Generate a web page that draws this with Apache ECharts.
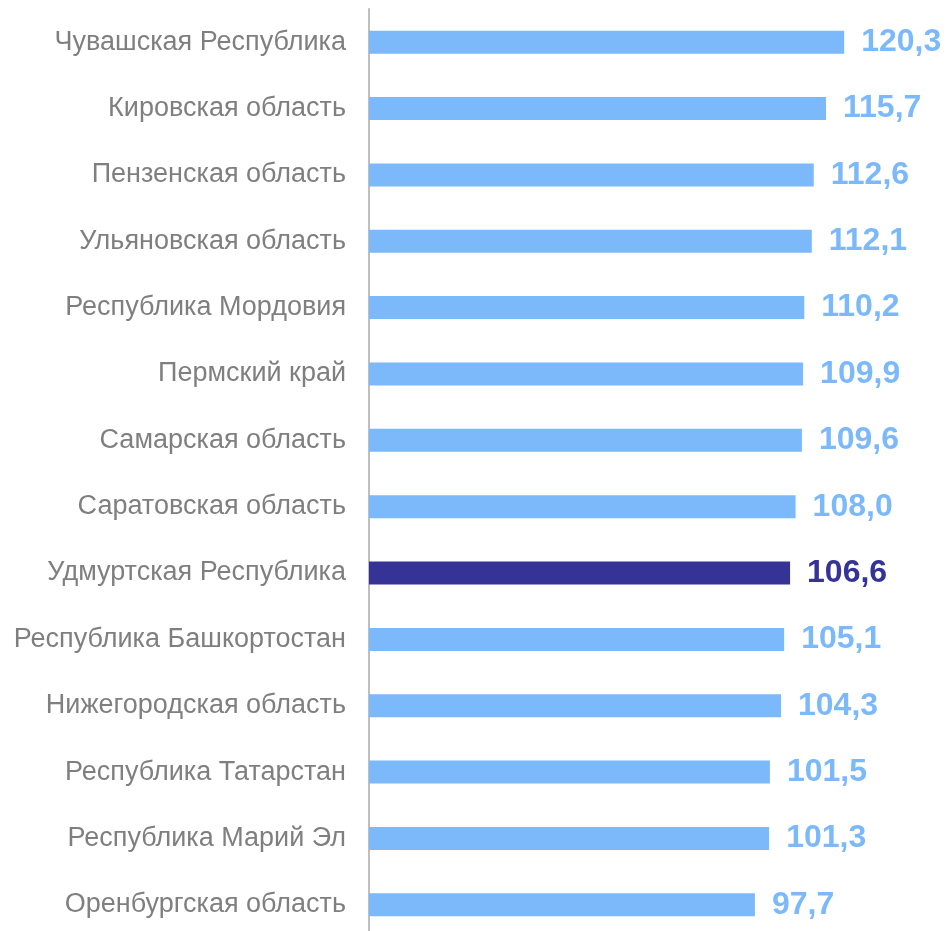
<!DOCTYPE html>
<html>
<head>
<meta charset="utf-8">
<script src="https://cdn.jsdelivr.net/npm/echarts@6/dist/echarts.min.js"></script>
<style>
    html, body { margin: 0; padding: 0; background: #ffffff; }
    #chart { width: 946px; height: 931px; }
</style>
</head>
<body>
<div id="chart"></div>
<script>
// регионы сверху вниз
var regions = [
    'Чувашская Республика',
    'Кировская область',
    'Пензенская область',
    'Ульяновская область',
    'Республика Мордовия',
    'Пермский край',
    'Самарская область',
    'Саратовская область',
    'Удмуртская Республика',
    'Республика Башкортостан',
    'Нижегородская область',
    'Республика Татарстан',
    'Республика Марий Эл',
    'Оренбургская область'
];
var values = [120.3, 115.7, 112.6, 112.1, 110.2, 109.9, 109.6, 108.0, 106.6, 105.1, 104.3, 101.5, 101.3, 97.7];
var highlightRegion = 'Удмуртская Республика';

var chart = echarts.init(document.getElementById('chart'));

// ось категорий идёт снизу вверх, поэтому разворачиваем
var cats = regions.slice().reverse();
var vals = values.slice().reverse();

var barData = vals.map(function (v, i) {
    var hl = cats[i] === highlightRegion;
    return {
        value: v,
        itemStyle: { color: hl ? '#353396' : '#7cb9fb' },
        label: { color: hl ? '#353396' : '#7cb9fb' }
    };
});

var option = {
    animation: false,
    grid: {
        left: 369,
        top: 9,
        width: 553,
        height: 929,
        outerBoundsMode: 'none',
        containLabel: false
    },
    xAxis: {
        type: 'value',
        min: 0,
        max: 140,
        show: false
    },
    yAxis: {
        type: 'category',
        data: cats,
        axisLine: { show: true, lineStyle: { color: '#bfbfbf', width: 2 } },
        axisTick: { show: false },
        axisLabel: {
            color: '#7f7f7f',
            fontSize: 27,
            fontFamily: 'Liberation Sans, Arial, sans-serif',
            margin: 23
        }
    },
    series: [{
        type: 'bar',
        data: barData,
        barWidth: 23,
        label: {
            show: true,
            position: 'right',
            distance: 17,
            fontSize: 32,
            fontWeight: 'bold',
            fontFamily: 'Liberation Sans, Arial, sans-serif',
            formatter: function (p) {
                return p.value.toFixed(1).replace('.', ',');
            }
        }
    }]
};

chart.setOption(option);
</script>
</body>
</html>
